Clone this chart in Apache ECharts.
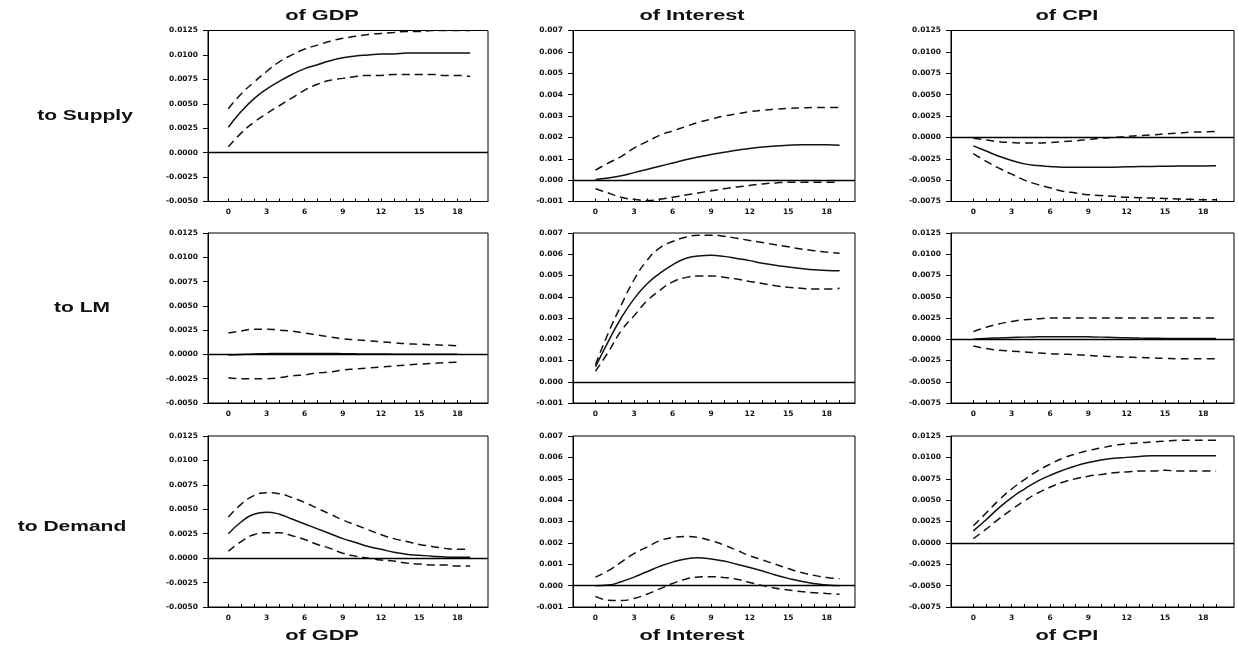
<!DOCTYPE html>
<html>
<head>
<meta charset="utf-8">
<script src="https://cdn.jsdelivr.net/npm/echarts@6/dist/echarts.min.js"></script>
<style>html,body{margin:0;padding:0;background:#fff;}#c{width:1238px;height:649px;}</style>
</head>
<body>
<div id="c"></div>
<script>
// ---------- data ----------
const periods = [0,1,2,3,4,5,6,7,8,9,10,11,12,13,14,15,16,17,18,19];
const xTickValues = [0,1,2,3,4,5,6,7,8,9,10,11,12,13,14,15,16,17,18,19];
const xLabelValues = [0,3,6,9,12,15,18];
const colTitles = ['of GDP','of Interest','of CPI'];
const rowLabels = ['to Supply','to LM','to Demand'];

const gdpYTicks = [-0.005,-0.0025,0,0.0025,0.005,0.0075,0.01,0.0125];
const intYTicks = [-0.001,0,0.001,0.002,0.003,0.004,0.005,0.006,0.007];
const cpiYTicks = [-0.0075,-0.005,-0.0025,0,0.0025,0.005,0.0075,0.01,0.0125];

// Row 1: shock to Supply
const gdpSupplyMid = [0.0026,0.0042,0.0055,0.0065,0.0073,0.0080,0.0086,0.0090,0.0094,0.0097,0.0099,0.0100,0.0101,0.0101,0.0102,0.0102,0.0102,0.0102,0.0102,0.0102];
const gdpSupplyHi  = [0.0045,0.0060,0.0072,0.0083,0.0093,0.0100,0.0106,0.0110,0.0114,0.0117,0.0119,0.0121,0.0122,0.0123,0.0124,0.0124,0.0125,0.0125,0.0125,0.0125];
const gdpSupplyLo  = [0.0006,0.0020,0.0031,0.0040,0.0048,0.0056,0.0064,0.0070,0.0074,0.0076,0.0078,0.0079,0.0079,0.0080,0.0080,0.0080,0.0080,0.0079,0.0079,0.0078];

const intSupplyMid = [0.00003,0.0001,0.0002,0.00035,0.0005,0.00065,0.0008,0.00095,0.00108,0.0012,0.0013,0.0014,0.00148,0.00155,0.0016,0.00163,0.00165,0.00165,0.00165,0.00163];
const intSupplyHi  = [0.00047,0.0008,0.0011,0.0015,0.0018,0.0021,0.0023,0.0025,0.0027,0.00285,0.0030,0.0031,0.0032,0.00327,0.00332,0.00336,0.00338,0.0034,0.0034,0.0034];
const intSupplyLo  = [-0.0004,-0.0006,-0.0008,-0.0009,-0.00095,-0.0009,-0.0008,-0.0007,-0.0006,-0.0005,-0.0004,-0.00032,-0.00025,-0.00018,-0.00013,-0.0001,-0.0001,-0.0001,-0.0001,-0.0001];

const cpiSupplyMid = [-0.0010,-0.0016,-0.0022,-0.0027,-0.0031,-0.0033,-0.0034,-0.00348,-0.0035,-0.0035,-0.0035,-0.00348,-0.00345,-0.00342,-0.0034,-0.00338,-0.00336,-0.00335,-0.00334,-0.00333];
const cpiSupplyHi  = [-0.0001,-0.0003,-0.0005,-0.0006,-0.00065,-0.00065,-0.0006,-0.0005,-0.0004,-0.00025,-0.0001,0.0000,0.0001,0.0002,0.0003,0.0004,0.0005,0.0006,0.00065,0.0007];
const cpiSupplyLo  = [-0.0019,-0.0028,-0.0036,-0.0043,-0.0050,-0.0055,-0.0059,-0.0063,-0.0065,-0.0067,-0.0068,-0.0069,-0.0070,-0.00705,-0.0071,-0.00715,-0.0072,-0.00725,-0.0073,-0.0073];

// Row 2: shock to LM
const gdpLmMid = [-0.00005,0,0.00005,0.00008,0.0001,0.0001,0.0001,0.0001,0.00009,0.00008,0.00006,0.00005,0.00004,0.00003,0.00002,0.00002,0.00001,0.00001,0.00001];
const gdpLmHi  = [0.0022,0.0024,0.0026,0.0026,0.0025,0.0024,0.0022,0.0020,0.0018,0.0016,0.0015,0.0014,0.0013,0.0012,0.0011,0.00105,0.0010,0.00095,0.0009];
const gdpLmLo  = [-0.0024,-0.0025,-0.0025,-0.0025,-0.0024,-0.0022,-0.0021,-0.0019,-0.0018,-0.0016,-0.0015,-0.0014,-0.0013,-0.0012,-0.0011,-0.0010,-0.00092,-0.00085,-0.0008];

const intLmMid = [0.0007,0.0019,0.0030,0.0039,0.0046,0.0051,0.0055,0.0058,0.00592,0.00595,0.0059,0.0058,0.0057,0.00558,0.00548,0.0054,0.00533,0.00527,0.00524,0.00522];
const intLmHi  = [0.0008,0.0023,0.0036,0.0048,0.0057,0.0063,0.0066,0.0068,0.0069,0.0069,0.00685,0.00675,0.00665,0.00655,0.00645,0.00635,0.00625,0.00617,0.0061,0.00605];
const intLmLo  = [0.0005,0.0014,0.0024,0.0031,0.0038,0.0043,0.0047,0.0049,0.00498,0.00498,0.00492,0.00483,0.00472,0.00462,0.00452,0.00445,0.0044,0.00436,0.00436,0.0044];

const cpiLmMid = [0.0000,0.0001,0.00015,0.0002,0.00025,0.00028,0.0003,0.0003,0.0003,0.00028,0.00025,0.0002,0.00017,0.00014,0.00012,0.0001,0.0001,0.0001,0.0001,0.0001];
const cpiLmHi  = [0.0009,0.0014,0.0018,0.0021,0.0023,0.0024,0.0025,0.0025,0.0025,0.0025,0.0025,0.0025,0.0025,0.0025,0.0025,0.0025,0.0025,0.0025,0.0025,0.0025];
const cpiLmLo  = [-0.0008,-0.0011,-0.0013,-0.0014,-0.0015,-0.0016,-0.0017,-0.00175,-0.0018,-0.0019,-0.0020,-0.00205,-0.0021,-0.00215,-0.0022,-0.00225,-0.0023,-0.0023,-0.0023,-0.0023];

// Row 3: shock to Demand
const gdpDemandMid = [0.0025,0.0037,0.0045,0.0047,0.0045,0.0040,0.0035,0.0030,0.0025,0.0020,0.0016,0.0012,0.0009,0.0006,0.0004,0.0003,0.0002,0.00012,0.0001,0.0001];
const gdpDemandHi  = [0.0042,0.0055,0.0064,0.0067,0.0066,0.0062,0.0057,0.0051,0.0045,0.0039,0.0034,0.0029,0.0024,0.0020,0.0017,0.0014,0.0012,0.0010,0.0009,0.0009];
const gdpDemandLo  = [0.0007,0.0017,0.0024,0.0026,0.0026,0.0023,0.0019,0.0014,0.0010,0.0005,0.0002,0.0000,-0.0002,-0.0003,-0.0005,-0.0006,-0.0007,-0.0007,-0.0008,-0.0008];

const intDemandMid = [0.0000,0.00003,0.00018,0.0004,0.00065,0.0009,0.0011,0.00125,0.0013,0.00125,0.00115,0.0010,0.00085,0.00068,0.0005,0.00034,0.0002,0.0001,0.00003,0.0000];
const intDemandHi  = [0.0004,0.0007,0.0011,0.0015,0.0018,0.0021,0.00225,0.0023,0.00225,0.0021,0.0019,0.00165,0.0014,0.0012,0.0010,0.0008,0.00062,0.00048,0.00038,0.00032];
const intDemandLo  = [-0.0005,-0.00068,-0.0007,-0.0006,-0.0004,-0.00015,0.0001,0.0003,0.0004,0.00042,0.00038,0.0003,0.00015,0.0000,-0.00012,-0.0002,-0.00028,-0.00033,-0.00037,-0.0004];

const cpiDemandMid = [0.0014,0.0027,0.0041,0.0053,0.0063,0.0072,0.0079,0.0085,0.0090,0.0094,0.0097,0.0099,0.0100,0.0101,0.0102,0.0102,0.0102,0.0102,0.0102,0.0102];
const cpiDemandHi  = [0.0020,0.0035,0.0050,0.0063,0.0074,0.0084,0.0092,0.0099,0.0104,0.0108,0.0111,0.0114,0.0116,0.0117,0.0118,0.0119,0.0120,0.0120,0.0120,0.0120];
const cpiDemandLo  = [0.0005,0.0016,0.0028,0.0039,0.0049,0.0058,0.0065,0.0071,0.0075,0.0078,0.0080,0.0082,0.0083,0.0084,0.0084,0.0085,0.0084,0.0084,0.0084,0.0084];

// ---------- layout ----------
const panels = [
  [[gdpSupplyMid,gdpSupplyHi,gdpSupplyLo],[intSupplyMid,intSupplyHi,intSupplyLo],[cpiSupplyMid,cpiSupplyHi,cpiSupplyLo]],
  [[gdpLmMid,gdpLmHi,gdpLmLo],[intLmMid,intLmHi,intLmLo],[cpiLmMid,cpiLmHi,cpiLmLo]],
  [[gdpDemandMid,gdpDemandHi,gdpDemandLo],[intDemandMid,intDemandHi,intDemandLo],[cpiDemandMid,cpiDemandHi,cpiDemandLo]]
];
const colY = [
  {ticks: gdpYTicks, interval: 0.0025, dec: 4},
  {ticks: intYTicks, interval: 0.001, dec: 3},
  {ticks: cpiYTicks, interval: 0.0025, dec: 4}
];
const colLeft = [208, 573, 951];
const colWidth = [280, 282, 283];
const colXRange = [[-1.6, 20.4], [-1.75, 20.2], [-1.75, 20.4]];
const rowTop = [30.5, 233, 436];
const rowHeight = [171, 170, 171];
const titleX = [322, 692, 1067];
const rowLabelX = [85, 82, 72];
const rowLabelY = [116, 308, 527];

const FONT = 'DejaVu Sans';
const grids = [], xAxes = [], yAxes = [], series = [];
let k = 0;
for (let r = 0; r < 3; r++) {
  for (let c = 0; c < 3; c++) {
    grids.push({left: colLeft[c], top: rowTop[r], width: colWidth[c], height: rowHeight[r],
      show: true, borderColor: '#000', borderWidth: 1, backgroundColor: 'transparent', containLabel: false});
    xAxes.push({type: 'value', gridIndex: k, min: colXRange[c][0], max: colXRange[c][1],
      axisLine: {show: true, onZero: false, lineStyle: {color: '#000', width: 1}},
      axisTick: {show: true, inside: true, length: 3, customValues: xTickValues, lineStyle: {color: '#000', width: 1}},
      axisLabel: {show: true, customValues: xLabelValues, margin: 7, color: '#111', fontFamily: FONT, fontSize: 7.5, fontWeight: 'bold'},
      splitLine: {show: false}});
    const cy = colY[c];
    yAxes.push({type: 'value', gridIndex: k, min: cy.ticks[0], max: cy.ticks[cy.ticks.length - 1], interval: cy.interval,
      axisLine: {show: true, onZero: false, lineStyle: {color: '#000', width: 1}},
      axisTick: {show: true, inside: false, length: 5, lineStyle: {color: '#000', width: 1}},
      axisLabel: {show: true, margin: 10, color: '#111', fontFamily: FONT, fontSize: 7.5, fontWeight: 'bold',
        formatter: (v) => (Math.abs(v) < 1e-12 ? 0 : v).toFixed(cy.dec)},
      splitLine: {show: false}});
    const [mid, hi, lo] = panels[r][c];
    const toPts = (arr) => arr.map((v, i) => [periods[i], v]);
    series.push({type: 'line', xAxisIndex: k, yAxisIndex: k, data: toPts(mid), symbol: 'none', smooth: 0.5,
      lineStyle: {color: '#111', width: 1.5, type: 'solid'}, silent: true, z: 3,
      markLine: {silent: true, symbol: ['none', 'none'], label: {show: false},
        lineStyle: {color: '#000', width: 1.4, type: 'solid'}, data: [{yAxis: 0}]}});
    series.push({type: 'line', xAxisIndex: k, yAxisIndex: k, data: toPts(hi), symbol: 'none', smooth: 0.5,
      lineStyle: {color: '#111', width: 1.5, type: [8, 5]}, silent: true, z: 3});
    series.push({type: 'line', xAxisIndex: k, yAxisIndex: k, data: toPts(lo), symbol: 'none', smooth: 0.5,
      lineStyle: {color: '#111', width: 1.5, type: [8, 5]}, silent: true, z: 3});
    k++;
  }
}

const graphics = [];
const textStyle = (t) => ({text: t, font: 'bold 15px "Liberation Sans", Arial, sans-serif', fill: '#111', textAlign: 'center', textVerticalAlign: 'middle'});
for (let c = 0; c < 3; c++) {
  graphics.push({type: 'text', x: titleX[c], y: 16, scaleX: 1.45, style: textStyle(colTitles[c])});
  graphics.push({type: 'text', x: titleX[c], y: 636, scaleX: 1.45, style: textStyle(colTitles[c])});
}
for (let r = 0; r < 3; r++) {
  graphics.push({type: 'text', x: rowLabelX[r], y: rowLabelY[r], scaleX: 1.4, style: textStyle(rowLabels[r])});
}

const chart = echarts.init(document.getElementById('c'), null, {renderer: 'canvas'});
chart.setOption({
  animation: false,
  backgroundColor: '#fff',
  grid: grids, xAxis: xAxes, yAxis: yAxes, series: series, graphic: graphics
});
</script>
</body>
</html>
